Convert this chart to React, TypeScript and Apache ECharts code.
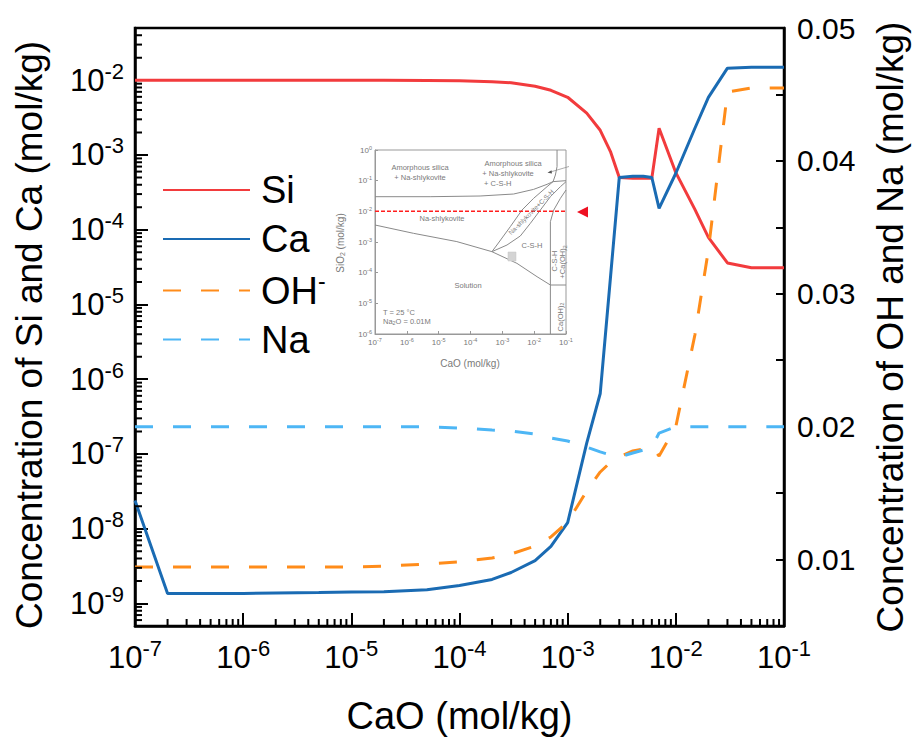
import React, { useEffect, useRef } from 'react';
import * as echarts from 'echarts';

// ---------- main chart data ----------
const cao = [1e-7, 2e-7, 5e-7, 1e-6, 2e-6, 5e-6, 1e-5, 2e-5, 5e-5, 1e-4, 2e-4, 3e-4, 5e-4, 7e-4, 1e-3, 1.5e-3, 2e-3, 2.5e-3, 3e-3, 4e-3, 5e-3, 6e-3, 7e-3, 1e-2, 1.5e-2, 2e-2, 3e-2, 5e-2, 1e-1];
const si = [0.01, 0.01, 0.01, 0.01, 0.01, 0.01, 0.01, 0.01, 0.00995, 0.00985, 0.00955, 0.00926, 0.00831, 0.00734, 0.00592, 0.00363, 0.00214, 0.00109, 5.0e-4, 4.9e-4, 4.9e-4, 4.9e-4, 2.28e-3, 5.8e-4, 1.87e-4, 7.9e-5, 3.6e-5, 3.1e-5, 3.1e-5];
const ca = [2.39e-8, 1.36e-9, 1.36e-9, 1.36e-9, 1.38e-9, 1.4e-9, 1.42e-9, 1.44e-9, 1.53e-9, 1.74e-9, 2.1e-9, 2.6e-9, 3.75e-9, 5.8e-9, 1.21e-8, 1.4e-7, 6.45e-7, 2.5e-5, 5.0e-4, 5.2e-4, 5.2e-4, 5.0e-4, 1.93e-4, 5.7e-4, 2.28e-3, 5.9e-3, 0.0145, 0.0149, 0.0149];
const oh = [0.00944, 0.00944, 0.00944, 0.00944, 0.00944, 0.00944, 0.00944, 0.00951, 0.00966, 0.00982, 0.01012, 0.01042, 0.01102, 0.0117, 0.01283, 0.01516, 0.01659, 0.01734, 0.01772, 0.01817, 0.01832, 0.01847, 0.01779, 0.02, 0.0269, 0.0333, 0.04518, 0.04549, 0.04549];
const na = [0.02, 0.02, 0.02, 0.02, 0.02, 0.02, 0.02, 0.02, 0.02, 0.0199, 0.01975, 0.01967, 0.01945, 0.01915, 0.01892, 0.01847, 0.0181, 0.01787, 0.01772, 0.01802, 0.01824, 0.01847, 0.01952, 0.02, 0.02, 0.02, 0.02, 0.02, 0.02];
const seriesNames = ['Si', 'Ca', 'OH-', 'Na'];

// minor ticks of the log axes (2..9 x 10^n)
const xMinor: number[] = [];
for (let e = -7; e <= -2; e++) for (let m = 2; m <= 9; m++) xMinor.push(m * Math.pow(10, e));
const yMinor: number[] = [];
for (let e = -10; e <= -2; e++) for (let m = 2; m <= 9; m++) {
  const v = m * Math.pow(10, e);
  if (v > 5e-10 && v < 5e-2) yMinor.push(v);
}

// ---------- inset (phase diagram) data ----------
const bndAmorph = [[1e-7, 0.030], [5.4e-6, 0.030], [2.0e-4, 0.0316], [2.26e-3, 0.0367], [9.6e-3, 0.052], [0.0254, 0.076], [0.0392, 0.093]];
const bndTopRight = [[0.0523, 1], [0.0523, 0.286], [0.0464, 0.153], [0.0392, 0.093]];
const bndTopShelf = [[0.0392, 0.093], [0.1, 0.1]];
const bndBandLeft = [[4.71e-4, 4.84e-4], [6.76e-4, 7.98e-4], [1.78e-3, 3.16e-3], [4.14e-3, 0.011], [9.6e-3, 0.0265], [0.0254, 0.0637], [0.0392, 0.093]];
const bndBandRight = [[4.71e-4, 4.84e-4], [1.4e-3, 7.98e-4], [3.67e-3, 1.57e-3], [7.59e-3, 4.06e-3], [0.0156, 0.011], [0.0323, 0.030], [0.0667, 0.0637], [0.1, 0.0927]];
const bndLowerLeft = [[1e-7, 3.58e-3], [1.61e-6, 1.92e-3], [3.72e-5, 1.03e-3], [4.71e-4, 4.84e-4]];
const bndSolution = [[4.71e-4, 4.84e-4], [2.88e-3, 2.01e-4], [0.0123, 7.4e-5], [0.0323, 3.96e-5], [0.1, 3.96e-5]];
const bndCH = [[0.1, 0.0496], [0.0667, 0.0265], [0.0411, 0.011], [0.0323, 4.6e-3], [0.0323, 1e-6]];
const insetRef = [[1e-7, 1e-2], [1e-1, 1e-2]];

const FONT = "'Liberation Sans', Arial, Helvetica, sans-serif";
const COLORS = ['#F23B3D', '#1A6BB3', '#FF8C1A', '#4DB6F5'];

const pairs = (ys: number[]) => cao.map((x, i) => [x, ys[i]]);
const logFmt = (v: number) => {
  const e = Math.log10(v);
  const r = Math.round(e);
  if (Math.abs(e - r) > 1e-6) return '';
  return `{b|10}{s|${r}}`;
};

const mainRich = {
  b: { fontSize: 31, fontFamily: FONT, color: '#000' },
  s: { fontSize: 22, fontFamily: FONT, color: '#000', padding: [0, 0, 18, 0] },
};
const insetRich = {
  b: { fontSize: 8, fontFamily: FONT, color: '#777' },
  s: { fontSize: 5.5, fontFamily: FONT, color: '#777', padding: [0, 0, 5, 0] },
};

const GREY = '#8a8a8a';
const TXT = '#7a7a7a';
const insetText = (text: string, x: number, y: number, extra: any = {}) => ({
  type: 'text',
  x,
  y,
  rotation: extra.rotation || 0,
  z: 50,
  style: {
    text,
    fill: TXT,
    fontSize: extra.fontSize || 7.5,
    fontFamily: FONT,
    align: extra.align || 'center',
    verticalAlign: 'middle',
    rich: {
      sub: { fontSize: (extra.fontSize || 7.5) * 0.7, fill: TXT, fontFamily: FONT, padding: [4, 0, 0, 0] },
    },
  },
});

function buildOption(): any {
  const mainSeries = [si, ca, oh, na].map((ys, i) => ({
    name: seriesNames[i],
    type: 'line',
    xAxisIndex: 0,
    yAxisIndex: i < 2 ? 0 : 1,
    data: pairs(ys),
    symbol: 'none',
    showSymbol: false,
    smooth: false,
    lineStyle: { color: COLORS[i], width: 3, type: i < 2 ? 'solid' : [18, 20] },
    itemStyle: { color: COLORS[i] },
    z: 10 + i,
  }));

  const insetLine = (data: number[][]) => ({
    type: 'line',
    xAxisIndex: 1,
    yAxisIndex: 2,
    data,
    symbol: 'none',
    silent: true,
    lineStyle: { color: GREY, width: 1 },
    z: 5,
  });

  const minorX = {
    type: 'custom',
    xAxisIndex: 0,
    yAxisIndex: 0,
    silent: true,
    data: xMinor.map((v) => [v, 5e-10]),
    renderItem: (_p: any, api: any) => {
      const pt = api.coord([api.value(0), api.value(1)]);
      return { type: 'line', shape: { x1: pt[0], y1: pt[1], x2: pt[0], y2: pt[1] - 7 }, style: { stroke: '#000', lineWidth: 2 } };
    },
    z: 20,
  };
  const minorY = {
    type: 'custom',
    xAxisIndex: 0,
    yAxisIndex: 0,
    silent: true,
    data: yMinor.map((v) => [1e-7, v]),
    renderItem: (_p: any, api: any) => {
      const pt = api.coord([api.value(0), api.value(1)]);
      return { type: 'line', shape: { x1: pt[0], y1: pt[1], x2: pt[0] + 7, y2: pt[1] }, style: { stroke: '#000', lineWidth: 2 } };
    },
    z: 20,
  };

  return {
    animation: false,
    backgroundColor: '#fff',
    textStyle: { fontFamily: FONT },
    legend: {
      data: seriesNames,
      orient: 'vertical',
      left: 162,
      top: 171,
      padding: 0,
      itemWidth: 87,
      itemHeight: 14,
      itemGap: 11,
      selectedMode: false,
      itemStyle: { opacity: 0, borderWidth: 0 },
      formatter: (n: string) => (n === 'OH-' ? '{a|OH}{s|-}' : `{a|${n}}`),
      textStyle: {
        fontSize: 38,
        fontFamily: FONT,
        color: '#000',
        padding: [0, 0, 0, 6],
        rich: {
          a: { fontSize: 38, fontFamily: FONT, color: '#000' },
          s: { fontSize: 23, fontFamily: FONT, color: '#000', padding: [0, 0, 20, 0] },
        },
      },
    },
    grid: [
      { left: 135, top: 28, width: 653, height: 598, show: true, borderColor: '#000', borderWidth: 2.5, backgroundColor: 'transparent' },
      { left: 375, top: 150, width: 191, height: 184, show: true, borderColor: '#999', borderWidth: 1, backgroundColor: '#fff' },
    ],
    xAxis: [
      {
        type: 'log',
        logBase: 10,
        gridIndex: 0,
        min: 1e-7,
        max: 1e-1,
        axisLine: { show: true, lineStyle: { color: '#000', width: 2.5 } },
        axisTick: { show: true, inside: true, length: 13, lineStyle: { color: '#000', width: 2 } },
        axisLabel: { margin: 11, formatter: logFmt, rich: mainRich, color: '#000' },
        splitLine: { show: false },
        name: 'CaO (mol/kg)',
        nameLocation: 'middle',
        nameGap: 71,
        nameTextStyle: { fontSize: 38, fontFamily: FONT, color: '#000' },
      },
      {
        type: 'log',
        logBase: 10,
        gridIndex: 1,
        min: 1e-7,
        max: 1e-1,
        axisLine: { show: true, lineStyle: { color: '#999', width: 1 } },
        axisTick: { show: true, inside: true, length: 3, lineStyle: { color: '#999', width: 1 } },
        axisLabel: { margin: 3, formatter: logFmt, rich: insetRich, color: '#777' },
        splitLine: { show: false },
      },
    ],
    yAxis: [
      {
        type: 'log',
        logBase: 10,
        gridIndex: 0,
        position: 'left',
        min: 5e-10,
        max: 5e-2,
        axisLine: { show: true, lineStyle: { color: '#000', width: 2.5 } },
        axisTick: { show: true, inside: true, length: 13, lineStyle: { color: '#000', width: 2 } },
        axisLabel: { margin: 11, formatter: logFmt, rich: mainRich, color: '#000' },
        splitLine: { show: false },
        name: 'Concentration of Si and Ca (mol/kg)',
        nameLocation: 'middle',
        nameGap: 87,
        nameRotate: 90,
        nameTextStyle: { fontSize: 37, fontFamily: FONT, color: '#000', padding: [0, 16, 0, 0] },
      },
      {
        type: 'value',
        gridIndex: 0,
        position: 'right',
        min: 0.005,
        max: 0.05,
        interval: 0.005,
        axisLine: { show: true, lineStyle: { color: '#000', width: 2.5 } },
        axisTick: { show: true, inside: true, length: 8, lineStyle: { color: '#000', width: 2 } },
        axisLabel: {
          margin: 13,
          fontSize: 30,
          fontFamily: FONT,
          color: '#000',
          showMaxLabel: true,
          formatter: (v: number) => (Math.abs(v * 100 - Math.round(v * 100)) < 1e-6 ? v.toFixed(2) : ''),
        },
        splitLine: { show: false },
        name: 'Concentration of OH and Na (mol/kg)',
        nameLocation: 'middle',
        nameGap: 88,
        nameRotate: 90,
        nameTextStyle: { fontSize: 37, fontFamily: FONT, color: '#000' },
      },
      {
        type: 'log',
        logBase: 10,
        gridIndex: 1,
        min: 1e-6,
        max: 1,
        axisLine: { show: true, lineStyle: { color: '#999', width: 1 } },
        axisTick: { show: true, inside: true, length: 3, lineStyle: { color: '#999', width: 1 } },
        axisLabel: { margin: 3, formatter: logFmt, rich: insetRich, color: '#777' },
        splitLine: { show: false },
      },
    ],
    series: [
      insetLine(bndAmorph),
      insetLine(bndTopRight),
      insetLine(bndTopShelf),
      insetLine(bndBandLeft),
      insetLine(bndBandRight),
      insetLine(bndLowerLeft),
      insetLine(bndSolution),
      insetLine(bndCH),
      {
        type: 'line',
        xAxisIndex: 1,
        yAxisIndex: 2,
        data: insetRef,
        symbol: 'none',
        silent: true,
        lineStyle: { color: '#FF1E1E', width: 1.5, type: [4, 2] },
        z: 6,
      },
      ...mainSeries,
      minorX,
      minorY,
    ],
    graphic: [
      insetText('Amorphous silica', 420, 167),
      insetText('+ Na-shlykovite', 420, 177),
      insetText('Amorphous silica', 513, 163),
      insetText('+ Na-shlykovite', 508, 173),
      insetText('+ C-S-H', 484, 183, { align: 'left' }),
      insetText('Na-shlykovite', 442, 218),
      insetText('Na-shlykovite+C-S-H', 531, 212, { rotation: (45 * Math.PI) / 180, fontSize: 6.5 }),
      insetText('C-S-H', 532, 245),
      insetText('Solution', 468, 285),
      insetText('T = 25 °C', 383, 312, { align: 'left' }),
      insetText('Na{sub|2}O = 0.01M', 383, 321, { align: 'left' }),
      insetText('C-S-H', 554, 261, { rotation: Math.PI / 2 }),
      insetText('+Ca(OH){sub|2}', 562.5, 262, { rotation: Math.PI / 2 }),
      insetText('Ca(OH){sub|2}', 560, 317, { rotation: Math.PI / 2 }),
      insetText('CaO (mol/kg)', 470, 363, { fontSize: 10 }),
      insetText('SiO{sub|2} (mol/kg)', 340, 243, { rotation: Math.PI / 2, fontSize: 10 }),
      {
        type: 'rect',
        z: 50,
        shape: { x: 508, y: 252, width: 8, height: 9 },
        style: { fill: '#d4d4d4', stroke: '#c4c4c4', lineWidth: 0.5 },
      },
      {
        type: 'line',
        z: 50,
        shape: { x1: 549, y1: 172.4, x2: 569, y2: 166.5 },
        style: { stroke: GREY, lineWidth: 0.7 },
      },
      {
        type: 'polygon',
        z: 50,
        shape: { points: [[547.5, 172.8], [551.5, 170.3], [552, 173.6]] },
        style: { fill: '#555' },
      },
      {
        type: 'polygon',
        z: 50,
        shape: { points: [[577, 212], [588, 206.5], [588, 217.5]] },
        style: { fill: '#EE1122' },
      },
    ],
  };
}

export default function App() {
  const ref = useRef<HTMLDivElement>(null);
  useEffect(() => {
    if (!ref.current) return;
    const chart = echarts.init(ref.current, null, { renderer: 'svg' });
    chart.setOption(buildOption());
    return () => chart.dispose();
  }, []);
  return (
    <div
      ref={ref}
      style={{ position: 'fixed', left: 0, top: 0, width: 917, height: 740, background: '#fff' }}
    />
  );
}
